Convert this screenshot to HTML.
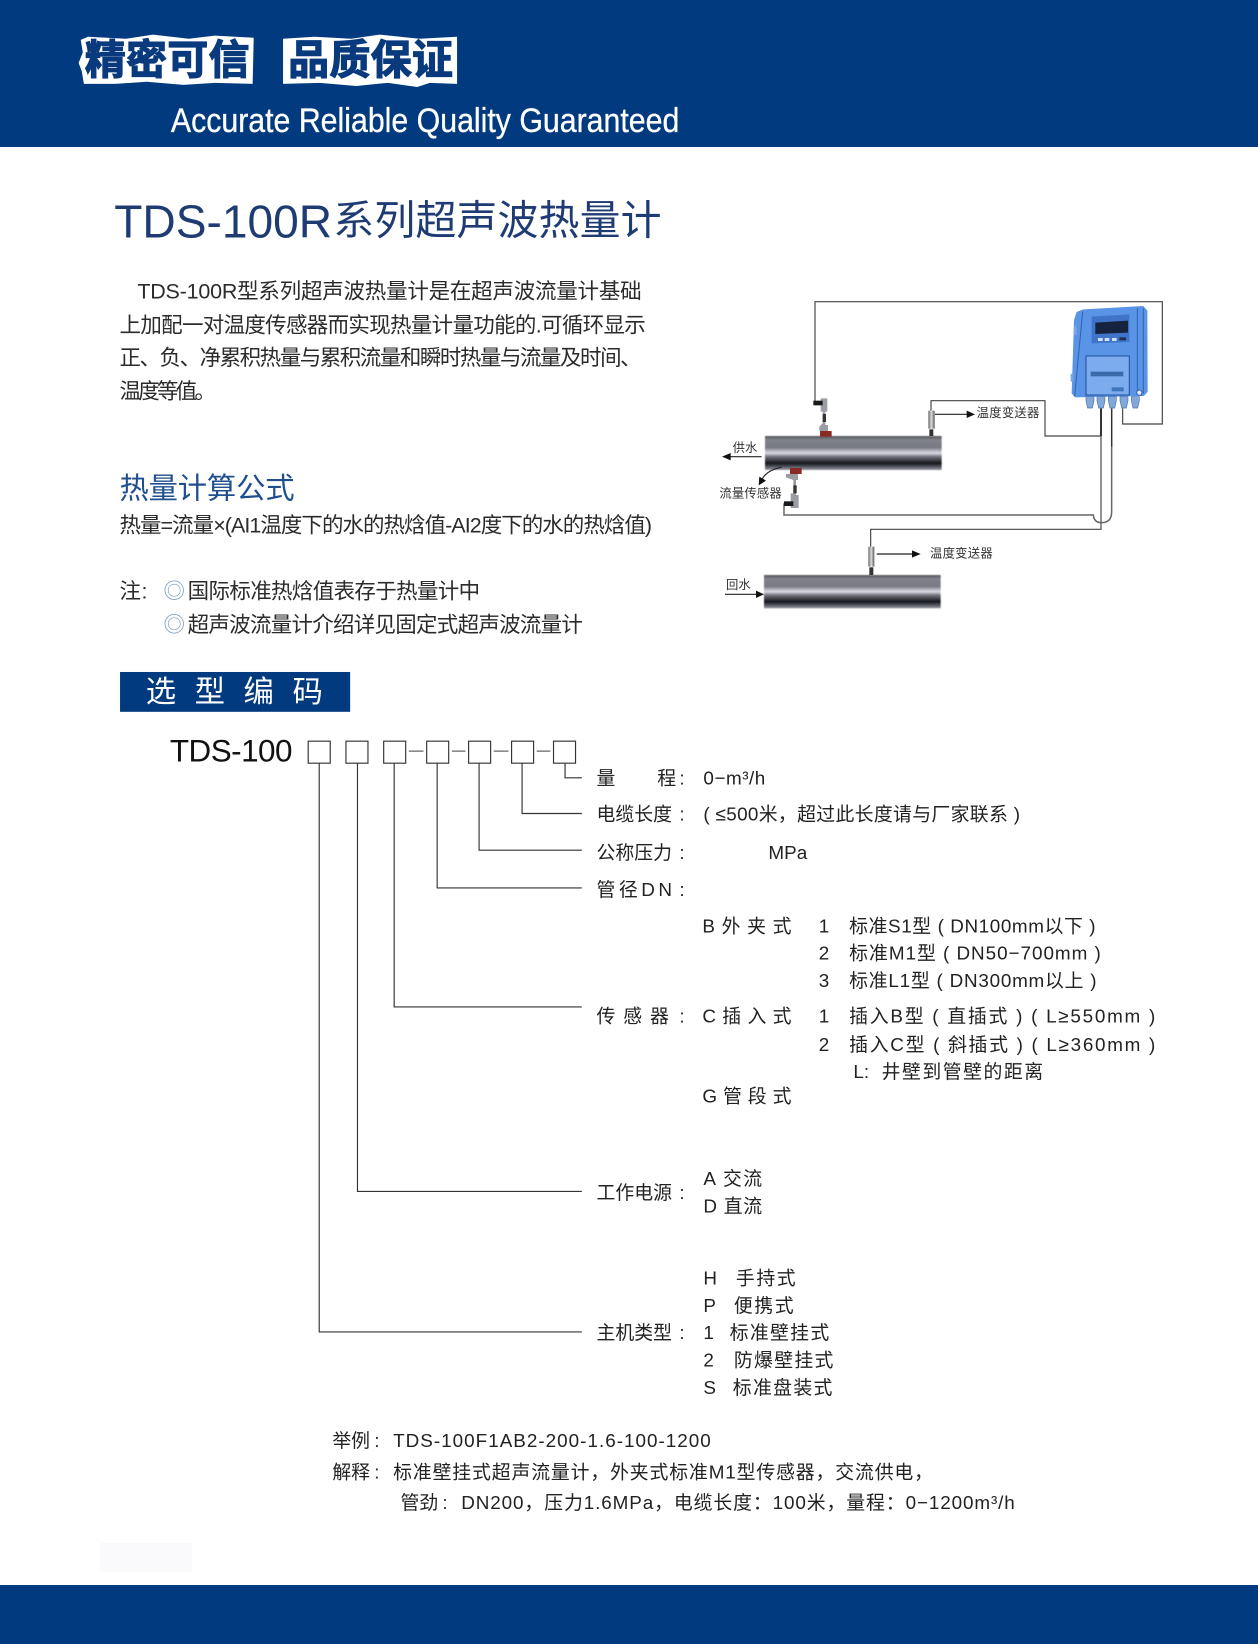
<!DOCTYPE html>
<html><head><meta charset="utf-8">
<style>
html,body{margin:0;padding:0;background:#fff;width:1258px;height:1644px;overflow:hidden}
svg{display:block}
text{font-family:"Liberation Sans","Noto Sans CJK SC",sans-serif;dominant-baseline:central;fill:#222;transform:translateY(.3px)}
.t{font-size:18px}
.p{font-size:20.5px;fill:#2b2b2b}
.d{font-size:37px;fill:#333}
</style></head><body>
<svg width="1258" height="1644" viewBox="0 0 1258 1644" xmlns="http://www.w3.org/2000/svg">
<defs>
<linearGradient id="pipe" x1="0" y1="0" x2="0" y2="1">
<stop offset="0" stop-color="#55555c"/><stop offset=".12" stop-color="#82838c"/><stop offset=".34" stop-color="#777882"/><stop offset=".5" stop-color="#dcdce4"/><stop offset=".6" stop-color="#777882"/><stop offset=".8" stop-color="#14141a"/><stop offset=".92" stop-color="#5f626c"/><stop offset="1" stop-color="#9a9ca6"/>
</linearGradient>
<linearGradient id="tube" x1="0" y1="0" x2="1" y2="0">
<stop offset="0" stop-color="#666"/><stop offset=".5" stop-color="#ddd"/><stop offset="1" stop-color="#555"/>
</linearGradient>
<filter id="soft" x="-5%" y="-5%" width="110%" height="110%"><feGaussianBlur stdDeviation="1.6"/></filter>
</defs>
<rect x="0" y="0" width="1258" height="147" fill="#013a7e"/>
<rect x="0" y="1585" width="1258" height="59" fill="#013a7e"/>
<rect x="100" y="1543" width="92" height="29" fill="#fafafc"/>

<g transform="scale(1.04833)">
<polygon points="77,38 84,35 120,37 146,33 180,37 205,34 242,36 241,80 205,79 175,81 140,78 110,80 80,80 78,68 75,60 79,50" fill="#fff"/>
<polygon points="270,37 300,35 335,37 362,33 400,37 436,35 436,80 410,79 398,83 370,79 340,82 305,79 270,80" fill="#fff"/>
<text x="81" y="57" textLength="157" style="fill:#0a3a7e;stroke:#0a3a7e;stroke-width:1.200px;font-weight:bold;font-size:39px">精密可信</text>
<text x="275" y="57" textLength="157" style="fill:#0a3a7e;stroke:#0a3a7e;stroke-width:1.200px;font-weight:bold;font-size:39px">品质保证</text>
<text x="163" y="115" textLength="485" lengthAdjust="spacingAndGlyphs" style="fill:#fff;font-size:33px;stroke:#fff;stroke-width:.3px">Accurate Reliable Quality Guaranteed</text>

<text x="109" y="211" style="fill:#1f3b73;font-size:44px">TDS-100R</text>
<text x="318" y="210" textLength="313" style="fill:#1f3b73;font-size:39px">系列超声波热量计</text>

<text class="p" x="131" y="278" textLength="481">TDS-100R型系列超声波热量计是在超声波流量计基础</text>
<text class="p" x="114" y="310" textLength="502">上加配一对温度传感器而实现热量计量功能的.可循环显示</text>
<text class="p" x="114" y="341" textLength="498">正、负、净累积热量与累积流量和瞬时热量与流量及时间、</text>
<text class="p" x="114" y="373" textLength="92">温度等值。</text>

<text x="114" y="466" textLength="167" style="font-size:28px;fill:#1f4f8f">热量计算公式</text>
<text class="p" x="114" y="501" textLength="508">热量=流量×(AI1温度下的水的热焓值-AI2度下的水的热焓值)</text>
<text class="p" x="114" y="564">注</text><text class="p" x="135" y="564">:</text>
<text class="p" x="156" y="564" textLength="17" style="fill:#7f9fc0">◎</text>
<text class="p" x="179" y="564" textLength="279">国际标准热焓值表存于热量计中</text>
<text class="p" x="156" y="596" textLength="17" style="fill:#7f9fc0">◎</text>
<text class="p" x="179" y="596" textLength="377">超声波流量计介绍详见固定式超声波流量计</text>

<rect x="114.500" y="641" width="219.500" height="38" fill="#013a7e"/>
<text x="139" y="660" textLength="169" style="fill:#fff;font-size:29px">选型编码</text>

<text x="162" y="716" textLength="117" style="font-size:30px;fill:#111">TDS-100</text>

<g fill="none" stroke="#333" stroke-width="1.100">
<rect x="294" y="707" width="21" height="21"/><rect x="330" y="707" width="21" height="21"/><rect x="366" y="707" width="21" height="21"/>
<rect x="407" y="707" width="21" height="21"/><rect x="447" y="707" width="21" height="21"/><rect x="488" y="707" width="21" height="21"/><rect x="528" y="707" width="21" height="21"/>
<path d="M390,716.500H404M431,716.500H444M471,716.500H485M512,716.500H525" stroke="#666"/>
<path d="M304.500,728V1270.500H555M341,728V1136.500H555M376,728V960.500H555M417,728V847H555M457,728V811H555M498,728V776H555M539,728V742H555"/>
</g>

<text class="t" x="569" y="742">量</text><text class="t" x="627" y="742">程</text><text class="t" x="648" y="742">:</text>
<text class="t" x="671" y="742" textLength="59">0−m³/h</text>
<text class="t" x="569" y="776" textLength="72">电缆长度</text><text class="t" x="648" y="776">:</text>
<text class="t" x="671" y="776" textLength="302">( ≤500米，超过此长度请与厂家联系 )</text>
<text class="t" x="569" y="813" textLength="72">公称压力</text><text class="t" x="648" y="813">:</text>
<text class="t" x="733" y="813" textLength="37">MPa</text>
<text class="t" x="569" y="848" textLength="72">管径DN</text><text class="t" x="648" y="848">:</text>

<text class="t" x="670" y="883" textLength="85">B 外 夹 式</text>
<text class="t" x="781" y="883">1</text>
<text class="t" x="810" y="883" textLength="235">标准S1型 ( DN100mm以下 )</text>
<text class="t" x="781" y="909">2</text>
<text class="t" x="810" y="909" textLength="240">标准M1型 ( DN50−700mm )</text>
<text class="t" x="781" y="935">3</text>
<text class="t" x="810" y="935" textLength="236">标准L1型 ( DN300mm以上 )</text>
<text class="t" x="569" y="969" textLength="69">传 感 器</text><text class="t" x="648" y="969">:</text>
<text class="t" x="670" y="969" textLength="85">C 插 入 式</text>
<text class="t" x="781" y="969">1</text>
<text class="t" x="810" y="969" textLength="292">插入B型 ( 直插式 ) ( L≥550mm )</text>
<text class="t" x="781" y="996">2</text>
<text class="t" x="810" y="996" textLength="292">插入C型 ( 斜插式 ) ( L≥360mm )</text>
<text class="t" x="814" y="1022">L</text><text class="t" x="824" y="1022">:</text><text class="t" x="841" y="1022" textLength="154">井壁到管壁的距离</text>
<text class="t" x="670" y="1045" textLength="85">G 管 段 式</text>

<text class="t" x="569" y="1137" textLength="72">工作电源</text><text class="t" x="648" y="1137">:</text>
<text class="t" x="671" y="1124" textLength="56">A 交流</text>
<text class="t" x="671" y="1150" textLength="56">D 直流</text>

<text class="t" x="671" y="1219">H</text><text class="t" x="702" y="1219" textLength="57">手持式</text>
<text class="t" x="671" y="1245">P</text><text class="t" x="700" y="1245" textLength="57">便携式</text>
<text class="t" x="569" y="1271" textLength="72">主机类型</text><text class="t" x="648" y="1271">:</text>
<text class="t" x="671" y="1271">1</text><text class="t" x="696" y="1271" textLength="95">标准壁挂式</text>
<text class="t" x="671" y="1297">2</text><text class="t" x="700" y="1297" textLength="95">防爆壁挂式</text>
<text class="t" x="671" y="1323">S</text><text class="t" x="699" y="1323" textLength="95">标准盘装式</text>

<text class="t" x="317" y="1374" textLength="36">举例</text><text class="t" x="357" y="1374">:</text>
<text class="t" x="375" y="1374" textLength="303">TDS-100F1AB2-200-1.6-100-1200</text>
<text class="t" x="317" y="1404" textLength="36">解释</text><text class="t" x="357" y="1404">:</text>
<text class="t" x="375" y="1404" textLength="515">标准壁挂式超声流量计，外夹式标准M1型传感器，交流供电，</text>
<text class="t" x="382" y="1433" textLength="36">管劲</text><text class="t" x="422" y="1433">:</text>
<text class="t" x="440" y="1433" textLength="528">DN200，压力1.6MPa，电缆长度：100米，量程：0−1200m³/h</text>
</g>

<g transform="translate(700,280) scale(.33333)">
<g filter="url(#soft)">
<rect x="195" y="468" width="530" height="102" fill="url(#pipe)"/>
<rect x="192" y="885" width="530" height="100" fill="url(#pipe)"/>
</g>
<g fill="none" stroke="#444" stroke-width="3.500">
<path d="M345,368V65H1387V432H1268V385"/>
<path d="M693,392V362H1035V468H1203"/>
<path d="M1203,385V748H512V800"/>
<path d="M1235,385V695Q1235,728 1205,728Q1182,728 1180,705H252V670" stroke="#666" stroke-width="4.500"/>
<path d="M1203,385V468" stroke="#333" stroke-width="6"/>
<path d="M1235,385V500" stroke="#333" stroke-width="4"/>
</g>
<g fill="none" stroke="#222" stroke-width="3.500">
<path d="M705,403H805"/><path d="M530,822H640"/><path d="M185,530H90"/><path d="M75,943H170"/><path d="M245,562Q200,570 185,600"/>
</g>
<path d="M800,392L825,403L800,414zM636,811L662,822L636,833zM92,519L66,530L92,541zM168,932L192,943L168,954zM176,616L178,590L198,602z" fill="#111"/>

<rect x="685" y="392" width="19" height="54" fill="url(#tube)"/>
<rect x="688" y="448" width="12" height="20" fill="#333"/>
<rect x="505" y="800" width="18" height="60" fill="url(#tube)"/>
<rect x="508" y="862" width="12" height="23" fill="#333"/>

<rect x="360" y="453" width="35" height="17" fill="#8a2a25"/>
<path d="M362,355H382V395H376V435H384V453H358V440L368,430V395H362z" fill="#9a9da3"/>
<rect x="340" y="362" width="28" height="14" fill="#1a1a1a"/>
<rect x="368" y="402" width="10" height="24" fill="#333"/>
<rect x="270" y="564" width="35" height="18" fill="#8a2a25"/>
<path d="M258,582H294V600H288V645H296V684H272V640H280V600L258,592z" fill="#9a9da3"/>
<rect x="252" y="664" width="28" height="14" fill="#1a1a1a"/>
<rect x="280" y="616" width="10" height="24" fill="#333"/>

<path d="M1130,96L1150,88L1330,78L1342,92L1343,335L1332,348L1125,352L1115,340L1122,120z" fill="#5a94e6"/>
<path d="M1120,280L1112,282L1112,305L1120,305zM1130,135L1122,140L1122,165L1130,165z" fill="#7aa6e0"/>
<path d="M1312,85L1312,345M1330,85L1330,340" stroke="#2f62b0" stroke-width="3" fill="none"/>
<path d="M1148,95L1124,348" stroke="#2f62b0" stroke-width="3" fill="none"/>
<path d="M1175,110L1288,103L1288,186L1175,190z" fill="#3f74c8"/>
<path d="M1186,128L1284,122L1284,158L1186,162z" fill="#16233f"/>
<rect x="1194" y="174" width="14" height="9" fill="#cfe0f5"/><rect x="1214" y="174" width="14" height="9" fill="#cfe0f5"/><rect x="1236" y="174" width="14" height="9" fill="#cfe0f5"/><rect x="1258" y="172" width="20" height="9" fill="#1d2f52"/>
<rect x="1158" y="228" width="130" height="117" fill="#7cacee" stroke="#1f4f99" stroke-width="3"/>
<rect x="1172" y="275" width="98" height="14" fill="#3b6aa8"/>
<rect x="1235" y="322" width="36" height="12" fill="#3f75bd"/>
<circle cx="1318" cy="338" r="8" fill="#dfe8f5" stroke="#2f5fa8" stroke-width="3"/>
<g fill="#82a8da" stroke="#4a74b0" stroke-width="2">
<path d="M1158,350h24v12l-5,22h-14l-5,-22z"/><path d="M1191,350h24v12l-5,22h-14l-5,-22z"/><path d="M1225,350h24v12l-5,22h-14l-5,-22z"/><path d="M1260,350h24v12l-5,22h-14l-5,-22z"/><path d="M1294,350h24v12l-5,22h-14l-5,-22z"/>
</g>

<text class="d" x="830" y="398" textLength="188">温度变送器</text>
<text class="d" x="690" y="820" textLength="188">温度变送器</text>
<text class="d" x="98" y="503" textLength="74">供水</text>
<text class="d" x="58" y="640" textLength="187">流量传感器</text>
<text class="d" x="78" y="915" textLength="74">回水</text>
</g>
</svg>
</body></html>
